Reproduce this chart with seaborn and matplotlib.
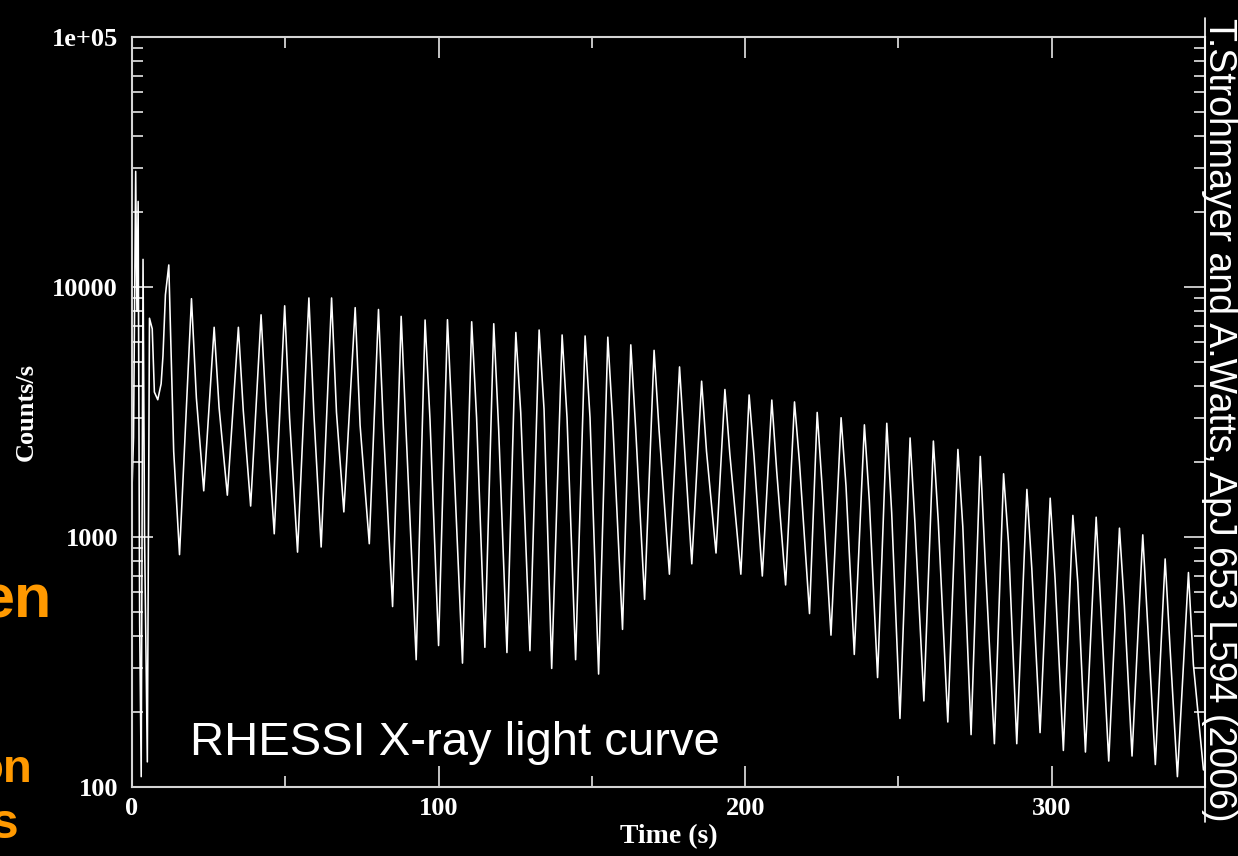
import numpy as np
import pandas as pd
import matplotlib
matplotlib.use("Agg")
import matplotlib.pyplot as plt
import seaborn as sns
from matplotlib import font_manager
from matplotlib.ticker import FixedLocator, FixedFormatter, MultipleLocator, LogLocator, NullFormatter
from matplotlib.lines import Line2D

# ---------------- data ----------------
# initial spike region (time s, counts/s)
init_t = [0.0, 0.5, 1.2, 1.6, 2.0, 2.5, 3.0, 3.6, 4.1, 5.0, 5.7, 6.6, 7.3, 8.4, 9.5, 10.1, 10.9]
init_c = [1550, 2500, 29000, 8000, 22000, 450, 110, 12900, 1000, 126, 7500, 6800, 3800, 3540, 4100, 5300, 9300]

# per-pulse peaks
peak_t = [12.0, 19.4, 26.8, 34.7, 42.1, 49.8, 57.7, 65.1, 72.8, 80.4,
          87.8, 95.6, 102.9, 110.8, 118.0, 125.2, 132.8, 140.3, 147.8, 155.2, 162.7, 170.3,
          178.6, 185.8, 193.4, 201.3, 208.7, 216.1, 223.5, 231.3, 238.9, 246.2, 253.8, 261.4,
          269.4, 276.7, 284.3, 291.9, 299.5, 306.9, 314.5, 322.1, 329.7, 337.0, 344.6]
peak_c = [12250, 8980, 6900, 6900, 7740, 8410, 9040, 9040, 8270, 8130,
          7630, 7380, 7400, 7260, 7130, 6580, 6730, 6430, 6370, 6300, 5870, 5580,
          4790, 4200, 3890, 3700, 3530, 3470, 3150, 3000, 2810, 2850, 2490, 2420,
          2240, 2100, 1790, 1550, 1430, 1220, 1200, 1085, 1020, 817, 721]

# shoulder (interpulse) after each peak
shoulder_t = [13.6, 21.0, 28.4, 36.3, 43.7, 51.4, 59.3, 66.7, 74.4, 82.0,
              89.4, 97.2, 104.5, 112.4, 119.6, 126.8, 134.4, 141.9, 149.4, 156.8, 164.3, 171.9,
              180.2, 187.4, 195.0, 202.9, 210.3, 217.7, 225.1, 232.9, 240.5, 247.8, 255.4, 263.0,
              271.0, 278.3, 285.9, 293.5, 301.1, 308.5, 316.1, 323.7, 331.3, 338.6, 346.2]
shoulder_c = [2200, 3600, 3300, 3200, 3300, 3000, 3150, 3150, 2800, 2750,
              2650, 2950, 2750, 3000, 2700, 3150, 3250, 3000, 3000, 2900, 2700, 2700,
              2300, 2200, 2150, 2100, 1830, 2000, 1600, 1600, 1400, 1250, 1130, 1150,
              1100, 800, 950, 750, 680, 660, 500, 530, 450, 360, 310]

# troughs after each peak
trough_t = [15.5, 23.4, 31.1, 38.7, 46.4, 54.0, 61.7, 69.1, 77.4, 85.0,
            92.7, 100.0, 107.8, 115.1, 122.3, 129.8, 136.9, 144.7, 152.2, 160.0, 167.2,
            175.3, 182.6, 190.5, 198.6, 205.6, 213.2, 221.0, 228.0, 235.6, 243.2, 250.5, 258.3,
            266.1, 273.7, 281.3, 288.6, 296.2, 303.8, 311.0, 318.6, 326.2, 333.8, 341.0, 349.5]
trough_c = [850, 1530, 1470, 1330, 1030, 870, 912, 1260, 940, 527,
            323, 368, 313, 362, 345, 351, 298, 323, 283, 427, 563,
            710, 781, 863, 710, 698, 643, 494, 405, 339, 274, 188, 221,
            182, 162, 149, 149, 165, 140, 138, 127, 133, 123, 110, 117]

x_ticks = [0, 100, 200, 300]
x_ticklabels = ["0", "100", "200", "300"]
y_ticks = [100, 1000, 10000, 100000]
y_ticklabels = ["100", "1000", "10000", "1e+05"]

x_label = "Time (s)"
y_label = "Counts/s"
inset_title = "RHESSI X-ray light curve"
credit = "T.Strohmayer and A.Watts, ApJ 653 L594 (2006)"

# ---------------- assemble series ----------------
ts = list(init_t)
cs = list(init_c)
for k in range(len(peak_t)):
    ts += [peak_t[k], shoulder_t[k], trough_t[k]]
    cs += [peak_c[k], shoulder_c[k], trough_c[k]]
df = pd.DataFrame({"t": ts, "c": cs})

# ---------------- style ----------------
sns.set_style("dark", rc={"axes.facecolor": "black", "figure.facecolor": "black",
                          "axes.grid": False})
plt.rcParams["font.family"] = ["Liberation Serif", "DejaVu Serif"]

W, H = 1238, 856
fig = plt.figure(figsize=(W / 100, H / 100), dpi=100, facecolor="black")
L, R, T, B = 132, 1205, 37, 787
ax = fig.add_axes([L / W, 1 - B / H, (R - L) / W, (B - T) / H])
ax.set_facecolor("black")

sns.lineplot(data=df, x="t", y="c", ax=ax, color="white", linewidth=1.15,
             estimator=None, sort=False)

ax.set_yscale("log")
ax.set_xlim(0, 350)
ax.set_ylim(100, 1e5)

frame_col = "#d4d4d4"
for s in ax.spines.values():
    s.set_color(frame_col)
    s.set_linewidth(1.5)
    s.set_visible(True)

ax.xaxis.set_major_locator(FixedLocator(x_ticks))
ax.xaxis.set_major_formatter(FixedFormatter(x_ticklabels))
ax.xaxis.set_minor_locator(MultipleLocator(50))
ax.yaxis.set_major_locator(FixedLocator(y_ticks))
ax.yaxis.set_major_formatter(FixedFormatter(y_ticklabels))
ax.yaxis.set_minor_locator(LogLocator(base=10, subs=np.arange(2, 10)))
ax.yaxis.set_minor_formatter(NullFormatter())

ax.tick_params(which="both", direction="in", top=True, right=True, bottom=True, left=True,
               color=frame_col, labelcolor="white")
ax.tick_params(which="major", length=15, width=1.3)
ax.tick_params(which="minor", length=8, width=1.3)
ax.tick_params(axis="y", which="major", pad=10, labelsize=19)
ax.tick_params(axis="x", which="major", pad=7, labelsize=19)
for lab in ax.get_xticklabels() + ax.get_yticklabels():
    lab.set_fontweight("bold")

ax.set_xlabel(x_label, fontsize=20, fontweight="bold", color="white")
ax.set_ylabel(y_label, fontsize=19, fontweight="bold", color="white")
ax.xaxis.set_label_coords(0.5, -(824 - B) / (B - T))
ax.yaxis.set_label_coords(-(L - 38) / (R - L), 0.5)

# inset title
fig.text(190 / W, 1 - 755 / H, inset_title, ha="left", va="baseline",
         fontsize=34, color="white", family=["Liberation Sans", "DejaVu Sans"])

# cut-off orange slide text on the left (partly hidden in the original slide)
orange = "#ff9900"
fig.text(52 / W, 1 - 617 / H, "en", ha="right", va="baseline", fontsize=44,
         fontweight="bold", color=orange, family=["Liberation Sans", "DejaVu Sans"])
fig.text(32 / W, 1 - 782 / H, "on", ha="right", va="baseline", fontsize=34,
         fontweight="bold", color=orange, family=["Liberation Sans", "DejaVu Sans"])
fig.text(18 / W, 1 - 838 / H, "s", ha="right", va="baseline", fontsize=36,
         fontweight="bold", color=orange, family=["Liberation Sans", "DejaVu Sans"])

# vertical credit (underlined)
names = {f.name for f in font_manager.fontManager.ttflist}
if "Liberation Sans Narrow" in names:
    cfam, cfs = ["Liberation Sans Narrow", "Liberation Sans"], 32
else:
    cfam, cfs = ["Liberation Sans", "DejaVu Sans"], 27
ctext = fig.text(1237 / W, 1 - 420 / H, credit, rotation=-90, ha="right", va="center",
                 fontsize=cfs, color="white", family=cfam)
fig.canvas.draw()
bb = ctext.get_window_extent(fig.canvas.get_renderer())
em = cfs * 100 / 72
ux = bb.x0 + 0.12 * em
fig.add_artist(Line2D([ux / W, ux / W], [bb.y0 / H, bb.y1 / H], transform=fig.transFigure,
                      color="white", linewidth=1.2))

fig.savefig("out.png", dpi=100, facecolor="black")
